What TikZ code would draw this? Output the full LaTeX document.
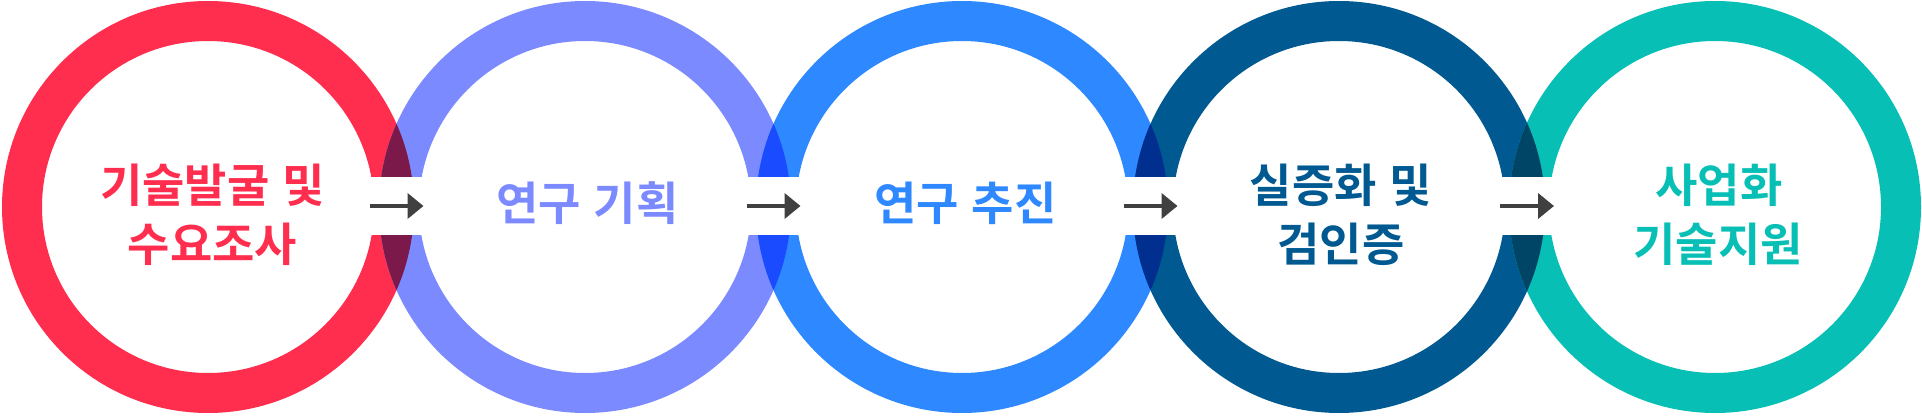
\documentclass[tikz,border=0pt]{standalone}
\usepackage{fontspec}
\newfontfamily\krfont{Noto Sans CJK KR Bold}[Script=Hangul, Language=Korean]
\usetikzlibrary{arrows.meta, calc}
\definecolor{ringA}{RGB}{255, 46, 78}
\definecolor{ringB}{RGB}{124,138,255}
\definecolor{ringC}{RGB}{ 46,136,255}
\definecolor{ringD}{RGB}{  0, 90,145}
\definecolor{ringE}{RGB}{  7,191,181}
\definecolor{lensAB}{RGB}{123, 26, 74}
\definecolor{lensBC}{RGB}{ 26, 75,255}
\definecolor{lensCD}{RGB}{  0, 47,143}
\definecolor{lensDE}{RGB}{  0, 68,102}
\definecolor{arrowclr}{RGB}{ 64, 64, 64}
\tikzset{
  % Halqa (ring)
  ring/.style     = {even odd rule},
  % O'tish oraliqlari
  gapband/.style  = {fill=white},
  % Bosqich o'qi
  steparrow/.style= {-{Triangle[length=16pt,width=25pt]}, line width=4pt, arrowclr},
  % Etiketlar
  lab/.style      = {font=\krfont\fontsize{46pt}{59pt}\selectfont, inner sep=0pt},
}
\begin{document}
\begin{tikzpicture}[x=1pt, y=1pt]
  \useasboundingbox (0,0) rectangle (1922,416);
  % Halqa markazlari
  \coordinate (c1) at (208,209);
  \coordinate (c2) at (585,209);
  \coordinate (c3) at (962,209);
  \coordinate (c4) at (1339,209);
  \coordinate (c5) at (1715,209);
  % Halqalar
  \fill[ringA, ring] (c1) circle[radius=206] (c1) circle[radius=166];
  \fill[ringB, ring] (c2) circle[radius=206] (c2) circle[radius=166];
  \fill[ringC, ring] (c3) circle[radius=206] (c3) circle[radius=166];
  \fill[ringD, ring] (c4) circle[radius=206] (c4) circle[radius=166];
  \fill[ringE, ring] (c5) circle[radius=206] (c5) circle[radius=166];
  % Kesishmalar
  \begin{scope}
    \clip (c1) circle[radius=206];
    \fill[lensAB] (c2) circle[radius=206];
  \end{scope}
  \begin{scope}
    \clip (c2) circle[radius=206];
    \fill[lensBC] (c3) circle[radius=206];
  \end{scope}
  \begin{scope}
    \clip (c3) circle[radius=206];
    \fill[lensCD] (c4) circle[radius=206];
  \end{scope}
  \begin{scope}
    \clip (c4) circle[radius=206];
    \fill[lensDE] (c5) circle[radius=206];
  \end{scope}
  % Oraliq
  \fill[gapband] ($(c1)+(0,-28)$) rectangle ($(c5)+(0,30)$);
  % O'qlar
  \coordinate (a1) at ($(c1)!0.5!(c2)+(-27,1)$);
  \coordinate (b1) at ($(c1)!0.5!(c2)+(27,1)$);
  \coordinate (a2) at ($(c2)!0.5!(c3)+(-27,1)$);
  \coordinate (b2) at ($(c2)!0.5!(c3)+(27,1)$);
  \coordinate (a3) at ($(c3)!0.5!(c4)+(-27,1)$);
  \coordinate (b3) at ($(c3)!0.5!(c4)+(27,1)$);
  \coordinate (a4) at ($(c4)!0.5!(c5)+(-27,1)$);
  \coordinate (b4) at ($(c4)!0.5!(c5)+(27,1)$);
  \draw[steparrow] (a1) -- (b1);
  \draw[steparrow] (a2) -- (b2);
  \draw[steparrow] (a3) -- (b3);
  \draw[steparrow] (a4) -- (b4);
  % Etiketlar (har qator alohida)
  \node[lab, ringA] (t1a) at ($(c1)+(4.5,22)$) {기술발굴 및};
  \node[lab, ringA] (t1b) at ($(c1)+(4.5,-37.5)$) {수요조사};
  \node[lab, ringB] (t2) at ($(c2)+(2.5,3.5)$) {연구 기획};
  \node[lab, ringC] (t3) at ($(c3)+(3.5,3.5)$) {연구 추진};
  \node[lab, ringD] (t4a) at ($(c4)+(2,22)$) {실증화 및};
  \node[lab, ringD] (t4b) at ($(c4)+(2,-37.5)$) {검인증};
  \node[lab, ringE] (t5a) at ($(c5)+(4,22)$) {사업화};
  \node[lab, ringE] (t5b) at ($(c5)+(3,-37.5)$) {기술지원};
\end{tikzpicture}
\end{document}
